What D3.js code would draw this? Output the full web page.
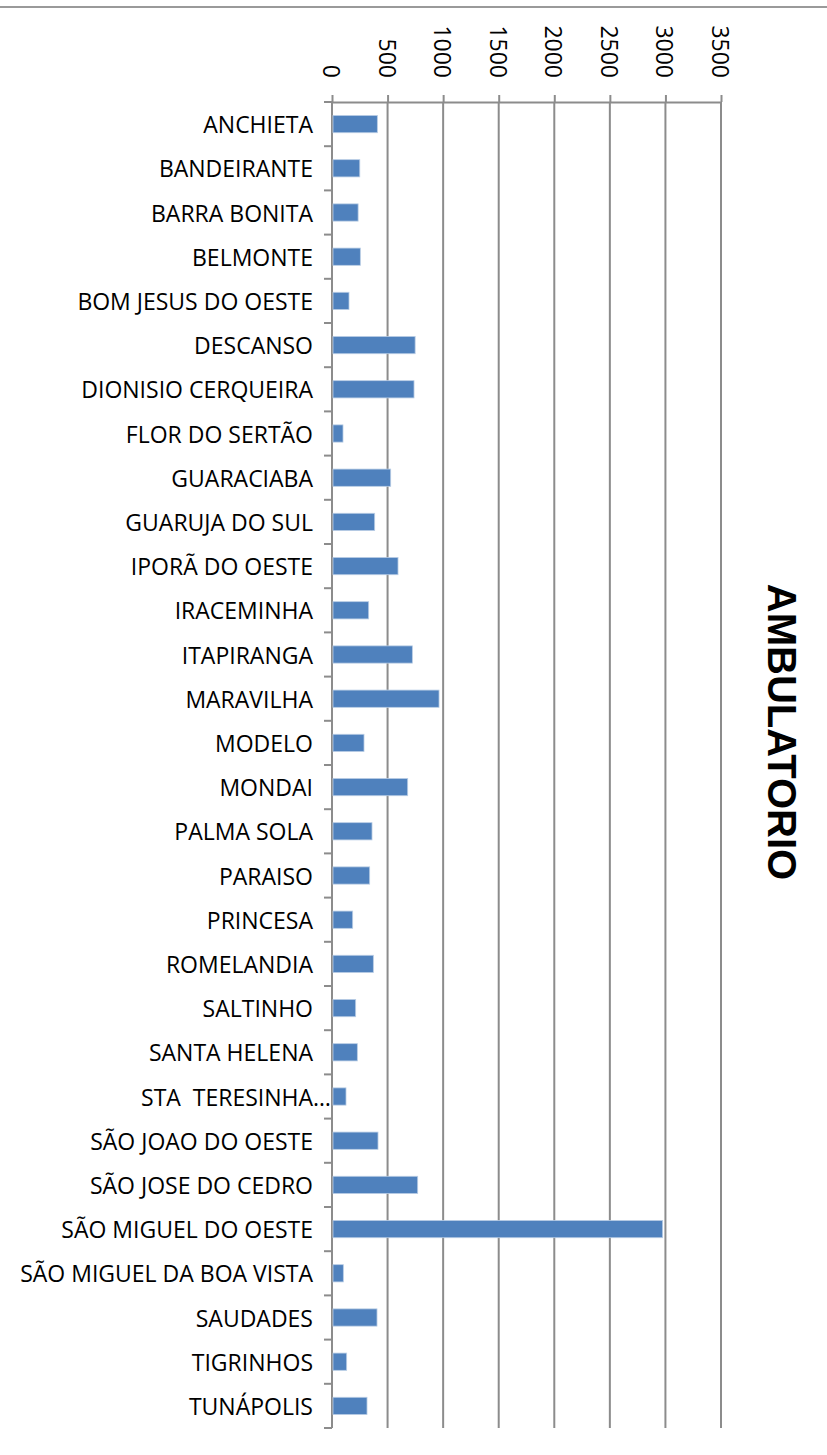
<!DOCTYPE html>
<html lang="pt">
<head>
<meta charset="utf-8" />
<script src="https://cdnjs.cloudflare.com/ajax/libs/d3/7.1.1/d3.min.js"></script>
<style>
  body { margin: 0; background: #fff; }
  svg { display: block; }
  text { white-space: pre; }
</style>
<title>AMBULATORIO</title>
</head>
<body>
<div id="chart"></div>
<script>
// data
const municipios = [
  'ANCHIETA', 'BANDEIRANTE', 'BARRA BONITA', 'BELMONTE', 'BOM JESUS DO OESTE',
  'DESCANSO', 'DIONISIO CERQUEIRA', 'FLOR DO SERTÃO', 'GUARACIABA', 'GUARUJA DO SUL',
  'IPORÃ DO OESTE', 'IRACEMINHA', 'ITAPIRANGA', 'MARAVILHA', 'MODELO',
  'MONDAI', 'PALMA SOLA', 'PARAISO', 'PRINCESA', 'ROMELANDIA',
  'SALTINHO', 'SANTA HELENA', 'STA  TERESINHA…', 'SÃO JOAO DO OESTE', 'SÃO JOSE DO CEDRO',
  'SÃO MIGUEL DO OESTE', 'SÃO MIGUEL DA BOA VISTA', 'SAUDADES', 'TIGRINHOS', 'TUNÁPOLIS'
];
const ambulatorio = [
  408, 250, 235, 255, 153,
  748, 738, 99, 528, 384,
  594, 330, 723, 963, 288,
  681, 360, 339, 186, 372,
  213, 228, 126, 414, 771,
  2975, 102, 405, 132, 315
];
const ticks = [0, 500, 1000, 1500, 2000, 2500, 3000, 3500];
const titulo = 'AMBULATORIO';

const W = 827, H = 1455;
const m = { left: 332, right: 721, top: 102, bottom: 1428 };
const gray = '#8c8c8c';

const svg = d3.select('#chart').append('svg')
  .attr('width', W).attr('height', H);

// frame line at the top
svg.append('line')
  .attr('x1', 0).attr('x2', W).attr('y1', 7).attr('y2', 7)
  .attr('stroke', '#9a9a9a').attr('stroke-width', 2);

const x = d3.scaleLinear().domain([0, 3500]).range([m.left, m.right]);
const y = d3.scaleBand().domain(municipios).range([m.top, m.bottom]);

// gridlines
svg.append('g')
  .selectAll('line')
  .data(ticks.slice(1))
  .join('line')
  .attr('x1', d => x(d)).attr('x2', d => x(d))
  .attr('y1', m.top).attr('y2', m.bottom)
  .attr('stroke', gray).attr('stroke-width', 2);

// top axis
const xAxis = svg.append('g')
  .attr('transform', `translate(0,${m.top})`)
  .call(d3.axisTop(x).tickValues(ticks).tickSize(7).tickSizeOuter(0));
xAxis.select('.domain').attr('stroke', gray).attr('stroke-width', 2);
xAxis.selectAll('.tick line').attr('stroke', gray).attr('stroke-width', 2);
xAxis.selectAll('.tick text').remove();

// tick labels, rotated
svg.append('g')
  .selectAll('text')
  .data(ticks)
  .join('text')
  .attr('transform', d => `translate(${x(d)},78) rotate(90)`)
  .attr('text-anchor', 'end')
  .attr('dominant-baseline', 'central')
  .style('font-family', '"Open Sans", sans-serif')
  .style('font-size', '23px')
  .attr('fill', '#000')
  .text(d => d);

// left axis with ticks between categories
const yAxis = svg.append('g');
yAxis.append('line')
  .attr('x1', m.left).attr('x2', m.left).attr('y1', m.top).attr('y2', m.bottom)
  .attr('stroke', gray).attr('stroke-width', 2);
const edges = municipios.map(d => y(d)).concat([m.bottom]);
yAxis.selectAll('.edge')
  .data(edges)
  .join('line')
  .attr('class', 'edge')
  .attr('x1', m.left - 8).attr('x2', m.left)
  .attr('y1', d => d).attr('y2', d => d)
  .attr('stroke', gray).attr('stroke-width', 2);

// category labels (the truncated one runs up to the axis)
svg.append('g')
  .selectAll('text')
  .data(municipios)
  .join('text')
  .attr('x', d => d.endsWith('…') ? 331 : 313)
  .attr('y', d => y(d) + y.bandwidth() / 2)
  .attr('text-anchor', 'end')
  .attr('dominant-baseline', 'central')
  .style('font-family', '"Open Sans", sans-serif')
  .style('font-size', '23px')
  .attr('fill', '#000')
  .text(d => d);

// bars
const barH = y.bandwidth() * 0.39;
svg.append('g')
  .selectAll('rect')
  .data(municipios)
  .join('rect')
  .attr('x', x(0) + 1)
  .attr('y', d => y(d) + (y.bandwidth() - barH) / 2)
  .attr('width', (d, i) => x(ambulatorio[i]) - x(0) - 1)
  .attr('height', barH)
  .attr('fill', '#4f81bd')
  .attr('stroke', '#b9cde5')
  .attr('stroke-width', 0.8);

// title on the right
svg.append('text')
  .attr('transform', 'translate(782,732) rotate(90)')
  .attr('text-anchor', 'middle')
  .attr('dominant-baseline', 'central')
  .style('font-family', '"Liberation Sans", Arial, sans-serif')
  .style('font-size', '40px')
  .style('font-weight', 'bold')
  .attr('fill', '#000')
  .text(titulo);
</script>
</body>
</html>
